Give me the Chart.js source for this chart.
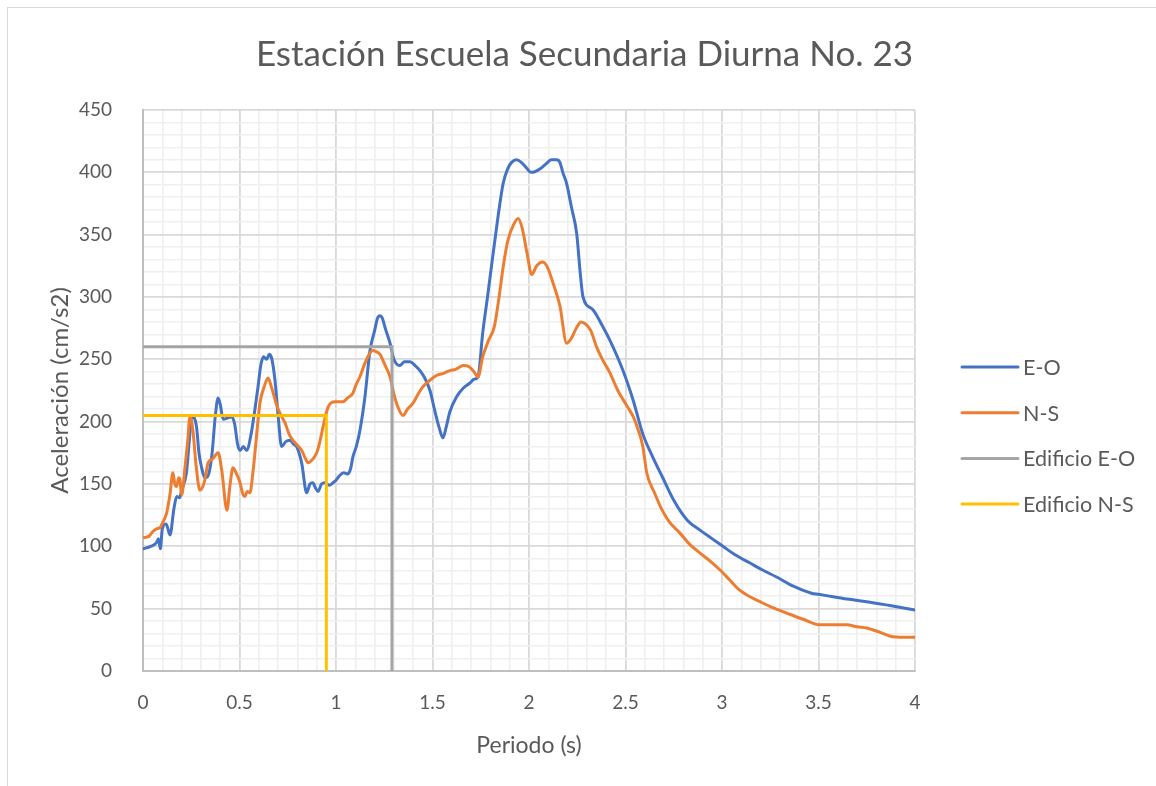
<!DOCTYPE html>
<html>
<head>
<meta charset="utf-8">
<script src="https://cdn.jsdelivr.net/npm/chart.js@4.4.1/dist/chart.umd.min.js"></script>
<style>
  html, body { margin: 0; padding: 0; background: #ffffff; }
  #wrap { width: 1156px; height: 786px; position: relative; }
</style>
</head>
<body>
<div id="wrap"><canvas id="c" width="1156" height="786"></canvas></div>
<script>
// Espectro de respuesta, componente E-O (periodo en s, aceleración en cm/s2)
const periodoEO = [0,0.04,0.07,0.08,0.09,0.1,0.12,0.14,0.16,0.175,0.19,0.2,0.225,0.24,0.252,0.265,0.278,0.29,0.304,0.32,0.335,0.356,0.375,0.389,0.4,0.415,0.44,0.46,0.475,0.49,0.503,0.52,0.537,0.56,0.58,0.596,0.61,0.625,0.64,0.655,0.668,0.684,0.7,0.718,0.74,0.762,0.78,0.796,0.822,0.848,0.865,0.88,0.893,0.907,0.925,0.943,0.965,0.985,1.0,1.02,1.04,1.06,1.075,1.088,1.105,1.124,1.15,1.176,1.2,1.215,1.228,1.24,1.255,1.28,1.3,1.33,1.355,1.383,1.41,1.435,1.46,1.487,1.51,1.535,1.554,1.57,1.59,1.625,1.66,1.694,1.715,1.736,1.76,1.785,1.81,1.84,1.866,1.89,1.91,1.936,1.96,1.99,2.01,2.03,2.06,2.09,2.115,2.143,2.16,2.175,2.195,2.22,2.247,2.265,2.28,2.33,2.38,2.42,2.487,2.54,2.59,2.64,2.69,2.75,2.82,2.886,2.95,3.005,3.07,3.145,3.21,3.28,3.37,3.464,3.5,3.575,3.66,3.75,3.87,4.0];
const aceleracionEO = [98,100,103,106,98,114,118,109,130,140,139,145,159,185,204,203,195,175,163,155,156,172,205,219,214,202,203,204,198,182,177,180,177,190,210,228,245,252,250,254,250,233,205,180,184,185,182,180,167,143,150,151,147,144,150,151,149,151,153,157,159,158,162,172,180,193,220,257,273,283,285,283,275,263,250,245,248,248,245,241,235,225,210,195,187,195,208,220,227,231,234,236,271,300,330,365,391,403,408,410,408,403,400,400.5,403,407,410,410,408,400,391,372,351,320,300,290,277,265,241,217,190,172,156,137,121,113,106,100,93,86.6,81,75.6,68,62.4,61.5,59.6,57.5,55.6,52.5,49];

// Componente N-S
const periodoNS = [0,0.03,0.052,0.07,0.088,0.105,0.123,0.14,0.155,0.165,0.174,0.185,0.192,0.2,0.218,0.232,0.243,0.252,0.26,0.275,0.295,0.31,0.32,0.337,0.36,0.389,0.408,0.435,0.45,0.466,0.485,0.503,0.515,0.528,0.54,0.554,0.57,0.58,0.606,0.628,0.648,0.665,0.693,0.715,0.736,0.757,0.777,0.8,0.822,0.84,0.855,0.88,0.9,0.918,0.933,0.96,0.995,1.036,1.06,1.088,1.105,1.124,1.15,1.176,1.19,1.21,1.228,1.255,1.28,1.3,1.32,1.347,1.37,1.4,1.425,1.45,1.485,1.52,1.56,1.59,1.62,1.66,1.69,1.715,1.736,1.76,1.79,1.82,1.845,1.866,1.89,1.92,1.944,1.965,1.99,2.014,2.04,2.07,2.095,2.125,2.16,2.195,2.22,2.245,2.27,2.295,2.32,2.35,2.38,2.42,2.46,2.51,2.54,2.56,2.59,2.61,2.65,2.69,2.73,2.78,2.83,2.886,2.94,2.99,3.04,3.09,3.14,3.197,3.26,3.335,3.42,3.508,3.58,3.646,3.7,3.75,3.82,3.886,4.0];
const aceleracionNS = [107,108,112,114,115,120,127,142,159,150,148,155,153,141,164,185,204,200,191,165,145,148,153,167,170,175,161,129,148,163,158,151,143,140,144,143,160,175,215,228,235,228,213,205,199,190,185,181,177,171,167,170,175,185,196,212,216,216,219,223,230,236,247,255,257,256,254,245,236,222,212,205,210,215,222,228,233,237,239,241,242,245,244,240,236,252,265,276,300,324,345,358,363,355,335,318,325,328,324,311,293,263,267,275,280,278,273,260,250,239,225,212,204,196,180,159,143,129,119,111,102,94.6,88,81,73,65,60,55.6,51,46.5,41.5,37,37,37,35.5,34.5,31,27.5,27];

// Periodo y aceleración de diseño de cada dirección del edificio
const edificioEOPeriodo = [0, 1.29, 1.29];
const edificioEOAceleracion = [260, 260, 0];
const edificioNSPeriodo = [0, 0.95, 0.95];
const edificioNSAceleracion = [205, 205, 0];

// Ejes
const ejeXMin = 0, ejeXMax = 4, ejeXPaso = 0.1, ejeXEtiqueta = 0.5;
const ejeYMin = 0, ejeYMax = 450, ejeYPaso = 10, ejeYEtiqueta = 50;

const seriesNombres = ['E-O', 'N-S', 'Edificio E-O', 'Edificio N-S'];

const FONT = 'Lato, "Open Sans", sans-serif';
const TEXT = '#595959';

const toPoints = (xs, ys) => xs.map((x, i) => ({ x: x, y: ys[i] }));

// Fondo blanco y marco exterior del gráfico
const marco = {
  id: 'marco',
  beforeDraw(chart) {
    const ctx = chart.ctx;
    ctx.save();
    ctx.fillStyle = '#ffffff';
    ctx.fillRect(0, 0, chart.width, chart.height);
    ctx.strokeStyle = '#d9d9d9';
    ctx.lineWidth = 1;
    ctx.strokeRect(7.5, 7.5, chart.width + 20, chart.height + 20);
    ctx.restore();
  }
};

// Leyenda a la derecha del área de trazado
const leyendaLateral = {
  id: 'leyendaLateral',
  afterDraw(chart, args, opts) {
    const ctx = chart.ctx;
    ctx.save();
    ctx.font = opts.size + 'px ' + FONT;
    ctx.textBaseline = 'middle';
    ctx.textAlign = 'left';
    chart.data.datasets.forEach((ds, i) => {
      const y = opts.top + i * opts.spacing;
      ctx.strokeStyle = ds.borderColor;
      ctx.lineWidth = ds.borderWidth;
      ctx.lineCap = 'round';
      ctx.beginPath();
      ctx.moveTo(opts.x, y);
      ctx.lineTo(opts.x + opts.lineLength, y);
      ctx.stroke();
      ctx.fillStyle = TEXT;
      ctx.fillText(ds.label, opts.x + opts.lineLength + opts.gap, y + 1);
    });
    ctx.restore();
  }
};

const lineBase = {
  pointRadius: 0,
  pointHoverRadius: 0,
  borderWidth: 3,
  fill: false,
  borderJoinStyle: 'round',
  borderCapStyle: 'round'
};

new Chart(document.getElementById('c'), {
  type: 'line',
  data: {
    datasets: [
      Object.assign({}, lineBase, {
        label: seriesNombres[0],
        data: toPoints(periodoEO, aceleracionEO),
        borderColor: '#4472C4',
        cubicInterpolationMode: 'monotone',
        order: 3
      }),
      Object.assign({}, lineBase, {
        label: seriesNombres[1],
        data: toPoints(periodoNS, aceleracionNS),
        borderColor: '#ED7D31',
        cubicInterpolationMode: 'monotone',
        order: 2
      }),
      Object.assign({}, lineBase, {
        label: seriesNombres[2],
        data: toPoints(edificioEOPeriodo, edificioEOAceleracion),
        borderColor: '#A5A5A5',
        borderCapStyle: 'butt',
        borderJoinStyle: 'miter',
        order: 1
      }),
      Object.assign({}, lineBase, {
        label: seriesNombres[3],
        data: toPoints(edificioNSPeriodo, edificioNSAceleracion),
        borderColor: '#FFC000',
        borderCapStyle: 'butt',
        borderJoinStyle: 'miter',
        order: 0
      })
    ]
  },
  options: {
    responsive: false,
    animation: false,
    devicePixelRatio: 1,
    layout: { padding: { left: 13, right: 0, top: 0, bottom: 0 } },
    plugins: {
      legend: { display: false },
      tooltip: { enabled: false },
      title: {
        display: true,
        text: 'Estación Escuela Secundaria Diurna No. 23',
        color: TEXT,
        font: { family: FONT, size: 35, weight: 'normal' },
        padding: { top: 34, bottom: 34 }
      },
      leyendaLateral: { x: 962, top: 367, spacing: 45.7, lineLength: 56, gap: 5, size: 21.5 }
    },
    scales: {
      x: {
        type: 'linear',
        min: ejeXMin,
        max: ejeXMax,
        afterFit(s) { s.height = 115; },
        ticks: {
          stepSize: ejeXPaso,
          autoSkip: false,
          maxRotation: 0,
          maxTicksLimit: 100,
          padding: 20,
          color: TEXT,
          font: { family: FONT, size: 19 },
          callback(v) {
            const d = Math.round(v * 10);
            return d % Math.round(ejeXEtiqueta * 10) === 0 ? String(d / 10) : '';
          }
        },
        grid: {
          drawTicks: false,
          color(c) { return Math.round(c.tick.value * 10) % 5 === 0 ? '#d9d9d9' : '#efefef'; },
          lineWidth(c) { return Math.round(c.tick.value * 10) % 5 === 0 ? 1.8 : 1.6; }
        },
        border: { display: true, color: '#bfbfbf', width: 2 },
        title: {
          display: true,
          text: 'Periodo (s)',
          color: TEXT,
          font: { family: FONT, size: 23, weight: 'normal' },
          padding: { top: 0, bottom: 27 }
        }
      },
      y: {
        type: 'linear',
        min: ejeYMin,
        max: ejeYMax,
        afterFit(s) { s.width = 130; },
        ticks: {
          stepSize: ejeYPaso,
          autoSkip: false,
          maxTicksLimit: 100,
          padding: 31,
          color: TEXT,
          font: { family: FONT, size: 19 },
          callback(v) { return Math.round(v) % ejeYEtiqueta === 0 ? String(Math.round(v)) : ''; }
        },
        grid: {
          drawTicks: false,
          color(c) { return Math.round(c.tick.value) % 50 === 0 ? '#d9d9d9' : '#efefef'; },
          lineWidth(c) { return Math.round(c.tick.value) % 50 === 0 ? 1.8 : 1.6; }
        },
        border: { display: true, color: '#bfbfbf', width: 2 },
        title: {
          display: true,
          text: 'Aceleración (cm/s2)',
          color: TEXT,
          font: { family: FONT, size: 24, weight: 'normal' },
          padding: { top: 33, bottom: 0 }
        }
      },
      espacioLeyenda: {
        type: 'linear',
        position: 'right',
        display: true,
        min: 0,
        max: 1,
        afterFit(s) { s.width = 241; },
        grid: { display: false, drawTicks: false },
        border: { display: false },
        ticks: { display: false }
      }
    }
  },
  plugins: [marco, leyendaLateral]
});
</script>
</body>
</html>
